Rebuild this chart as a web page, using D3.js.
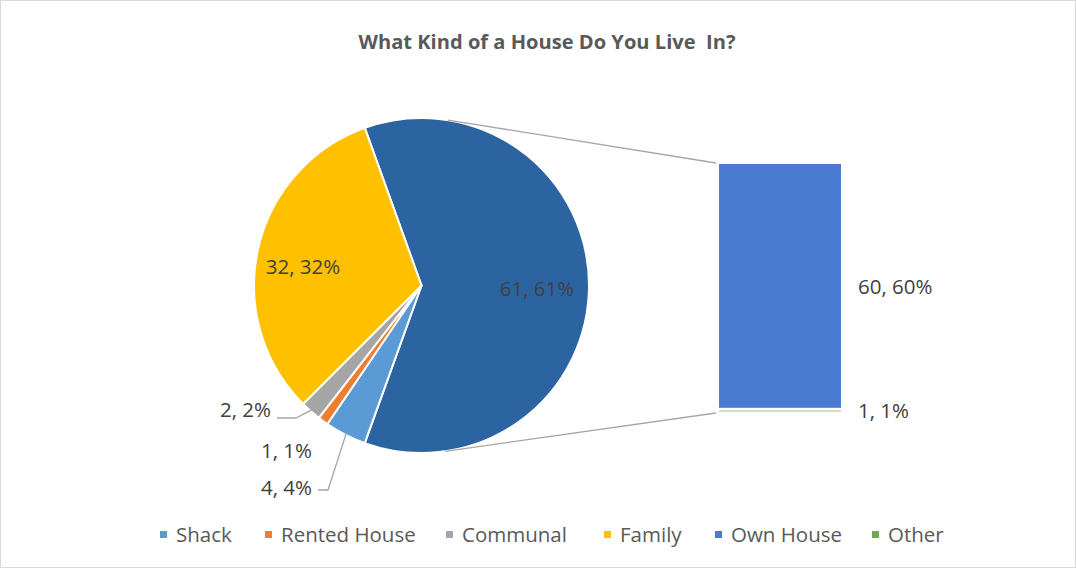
<!DOCTYPE html>
<html>
<head>
<meta charset="utf-8">
<script src="https://cdn.jsdelivr.net/npm/d3@7"></script>
<style>
  html, body { margin: 0; padding: 0; background: #fff; }
  svg { display: block; }
  text { font-family: "Open Sans", sans-serif; white-space: pre; }
</style>
</head>
<body>
<svg id="chart" width="1076" height="568"></svg>
<script>
// ---- data ----
const title = "What Kind of a House Do You Live  In?";
const categories = ["Shack", "Rented House", "Communal", "Family", "Own House", "Other"];
const values = [4, 1, 2, 32, 60, 1];
const colors = ["#5B9BD5", "#ED7D31", "#A5A5A5", "#FFC000", "#4A7BD0", "#70AD47"];
const pieCount = 4;           // first 4 in pie, rest split into bar
const combinedColor = "#2C64A2";

const total = d3.sum(values);
const pieVals = values.slice(0, pieCount);
const barVals = values.slice(pieCount);
const combined = d3.sum(barVals);

const svg = d3.select("#chart");
const W = 1076, H = 568;

svg.append("rect").attr("x", 0.5).attr("y", 0.5).attr("width", W - 1).attr("height", H - 1)
  .attr("fill", "#fff").attr("stroke", "#D9D9D9");

svg.append("text").attr("x", 547).attr("y", 49).attr("text-anchor", "middle")
  .attr("xml:space", "preserve")
  .attr("font-size", 20).attr("font-weight", "bold").attr("fill", "#595959")
  .attr("textLength", 377).attr("lengthAdjust", "spacingAndGlyphs")
  .text(title);

// ---- pie ----
const cx = 421.5, cy = 285.5, R = 167.5;
const pieData = [{ name: "combined", value: combined, color: combinedColor }]
  .concat(pieVals.map((v, i) => ({ name: categories[i], value: v, color: colors[i] })));
const half = (combined / total) * Math.PI;
const start = Math.PI / 2 - half;
const pie = d3.pie().sort(null).value(d => d.value).startAngle(start).endAngle(start + 2 * Math.PI);
const arcs = pie(pieData);
const arc = d3.arc().innerRadius(0).outerRadius(R);

const gPie = svg.append("g").attr("transform", `translate(${cx},${cy})`);
gPie.selectAll("path").data(arcs).join("path")
  .attr("d", arc).attr("fill", d => d.data.color)
  .attr("stroke", "#fff").attr("stroke-width", 2).attr("stroke-linejoin", "round");

// ---- bar ----
const barX0 = 718, barX1 = 842;
const yBar = d3.scaleLinear().domain([0, combined]).range([413, 163]);
const barSegsDraw = barVals.map((v, i) => {
  const above = d3.sum(barVals.slice(0, i));
  return { v, color: colors[pieCount + i], top: combined - above, bottom: combined - above - v };
});
svg.append("g").selectAll("rect").data(barSegsDraw).join("rect")
  .attr("x", barX0).attr("width", barX1 - barX0)
  .attr("y", d => yBar(d.top)).attr("height", d => yBar(d.bottom) - yBar(d.top))
  .attr("fill", d => d.color).attr("stroke", "#fff").attr("stroke-width", 2)
  .attr("fill-opacity", (d, i) => i === 0 ? 1 : 0.35);

// ---- connector lines (tangents from bar corners) ----
function tangentPoint(px, py, upper) {
  const dx = px - cx, dy = py - cy;
  const d = Math.hypot(dx, dy);
  const phi = Math.atan2(dy, dx);
  const a = Math.acos(R / d);
  const p1 = [cx + R * Math.cos(phi + a), cy + R * Math.sin(phi + a)];
  const p2 = [cx + R * Math.cos(phi - a), cy + R * Math.sin(phi - a)];
  if (upper) return p1[1] < p2[1] ? p1 : p2;
  return p1[1] > p2[1] ? p1 : p2;
}
const topCorner = [barX0 - 2, yBar(combined)];
const botCorner = [barX0 - 2, yBar(0)];
const tTop = tangentPoint(topCorner[0], topCorner[1], true);
const tBot = tangentPoint(botCorner[0], botCorner[1], false);
svg.append("line").attr("x1", tTop[0]).attr("y1", tTop[1]).attr("x2", topCorner[0]).attr("y2", topCorner[1])
  .attr("stroke", "#A6A6A6").attr("stroke-width", 1.3);
svg.append("line").attr("x1", tBot[0]).attr("y1", tBot[1]).attr("x2", botCorner[0]).attr("y2", botCorner[1])
  .attr("stroke", "#A6A6A6").attr("stroke-width", 1.3);

// ---- labels ----
const fmt = v => `${v}, ${Math.round(v / total * 100)}%`;
const labelColor = "#404040";
const fs = 20.5;
function lab(x, y, txt, anchor) {
  svg.append("text").attr("x", x).attr("y", y).attr("text-anchor", anchor || "middle")
    .attr("font-size", fs).attr("fill", labelColor).text(txt);
}
lab(537, 296, fmt(combined));
lab(303, 274, fmt(pieVals[3]));
lab(271, 417, fmt(pieVals[2]), "end");
lab(312, 458, fmt(pieVals[1]), "end");
lab(312, 495, fmt(pieVals[0]), "end");
lab(858, 294, fmt(barVals[0]), "start");
lab(858, 418, fmt(barVals[1]), "start");

// leader lines
const leaderColor = "#A6A6A6";
function arcPt(d, rr) {
  const a = (d.startAngle + d.endAngle) / 2;
  return [cx + rr * Math.sin(a), cy - rr * Math.cos(a)];
}
const commArc = arcs[3], shackArc = arcs[1];
const cp = arcPt(commArc, R - 2);
svg.append("polyline").attr("fill", "none").attr("stroke", leaderColor).attr("stroke-width", 1.3)
  .attr("points", `277,418 296,418 ${cp[0]},${cp[1]}`);
const sp = arcPt(shackArc, R - 2);
svg.append("polyline").attr("fill", "none").attr("stroke", leaderColor).attr("stroke-width", 1.3)
  .attr("points", `318,490 328,490 ${sp[0]},${sp[1]}`);

// ---- legend ----
const legendX = [160, 265, 446, 604, 715, 872];
const lg = svg.append("g");
categories.forEach((c, i) => {
  lg.append("rect").attr("x", legendX[i]).attr("y", 531).attr("width", 7).attr("height", 7).attr("fill", colors[i]);
  lg.append("text").attr("x", legendX[i] + 16).attr("y", 542).attr("font-size", fs)
    .attr("fill", "#595959").text(c);
});
</script>
</body>
</html>
